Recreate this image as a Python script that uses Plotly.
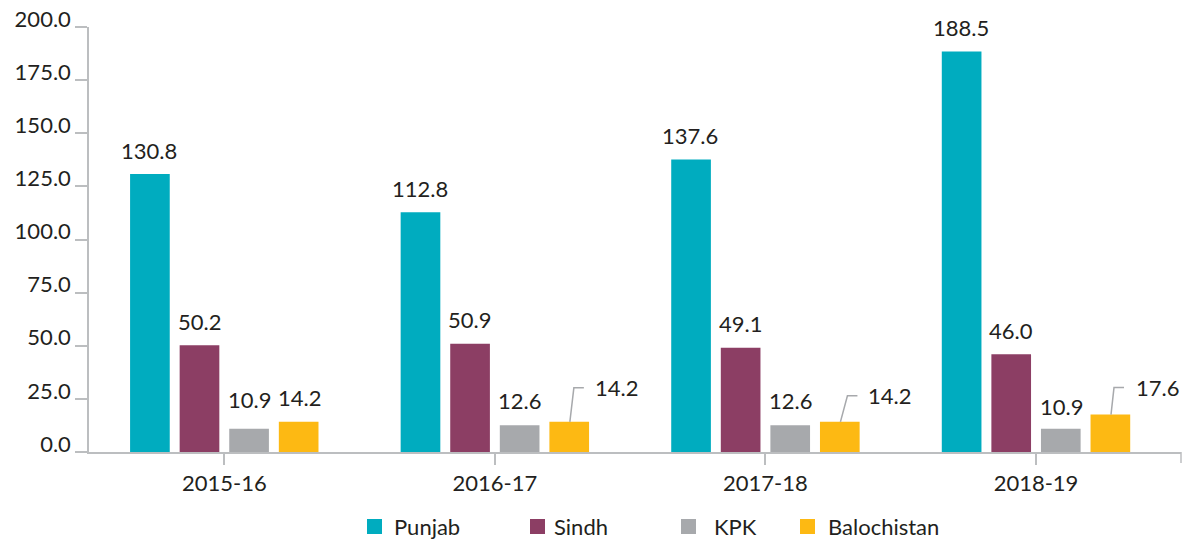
import plotly.graph_objects as go

years = ["2015-16", "2016-17", "2017-18", "2018-19"]
punjab = [130.8, 112.8, 137.6, 188.5]
sindh = [50.2, 50.9, 49.1, 46.0]
kpk = [10.9, 12.6, 12.6, 10.9]
balochistan = [14.2, 14.2, 14.2, 17.6]

series_names = ["Punjab", "Sindh", "KPK", "Balochistan"]
series_vals = [punjab, sindh, kpk, balochistan]
colors = ["#00acbf", "#8c3e64", "#a7a9ac", "#fdb913"]

FONT = "Lato"
FS = 22
TXT = "#231f20"
GRID = "#bcbec0"

# plot area in page pixels
L, R, T, B = 89, 1181, 27, 452
W, H = 1188, 540
PW, PH = R - L, B - T

fig = go.Figure()
for name, vals, c in zip(series_names, series_vals, colors):
    fig.add_trace(go.Bar(x=years, y=vals, name=name, showlegend=False,
                         marker=dict(color=c, line=dict(width=0))))

bar_px = 50
offs = [-1.5, -0.5, 0.5, 1.5]
# leader-line labels: (series, category) -> (dx_bend, dy, text_dx)
leaders = {
    (3, 1): (4, 34, 24),
    (3, 2): (7, 26, 27),
    (3, 3): (3, 27, 24),
}
# plain label vertical offsets (pixels above bar top) where they differ from default
label_dy = {(2, 0): 29, (2, 1): 25, (2, 2): 25, (2, 3): 22}

annotations = []
shapes = []
for si, vals in enumerate(series_vals):
    for ci, v in enumerate(vals):
        xs = offs[si] * bar_px
        if (si, ci) in leaders:
            dx, dy, tdx = leaders[(si, ci)]
            shapes.append(dict(
                type="path", xref="x", yref="y",
                xsizemode="pixel", ysizemode="pixel",
                xanchor=ci, yanchor=v,
                path=f"M {xs},0 L {xs+dx},{dy} L {xs+dx+10},{dy}",
                line=dict(color="#a7a9ac", width=1.5),
            ))
            annotations.append(dict(
                x=years[ci], y=v, xref="x", yref="y", text=f"{v:.1f}",
                showarrow=False, xanchor="left", yanchor="middle",
                xshift=xs + tdx - 1, yshift=dy,
                font=dict(family=FONT, size=FS, color=TXT),
            ))
        else:
            annotations.append(dict(
                x=years[ci], y=v, xref="x", yref="y", text=f"{v:.1f}",
                showarrow=False, xanchor="center", yanchor="middle",
                xshift=xs, yshift=label_dy.get((si, ci), 24),
                font=dict(family=FONT, size=FS, color=TXT),
            ))

# extra tick at the right end of the category axis
shapes.append(dict(type="line", xref="paper", yref="paper", x0=1, x1=1, y0=0, y1=-11 / PH,
                   line=dict(color=GRID, width=1.5)))

# manual legend (page-pixel placement)
def px_x(px):
    return (px - L) / PW

def px_y(py):
    return (B - py) / PH

leg_sq_x = [367, 530, 681, 800]
leg_tx_x = [392, 552, 712, 826]
for name, c, sx, tx in zip(series_names, colors, leg_sq_x, leg_tx_x):
    shapes.append(dict(type="rect", xref="paper", yref="paper",
                       x0=px_x(sx), x1=px_x(sx + 15), y0=px_y(534), y1=px_y(519),
                       fillcolor=c, line=dict(width=0)))
    annotations.append(dict(x=px_x(tx), y=px_y(526), xref="paper", yref="paper",
                            text=name, showarrow=False, xanchor="left", yanchor="middle",
                            font=dict(family=FONT, size=FS, color=TXT)))

fig.update_layout(
    width=W, height=H,
    margin=dict(l=L, r=W - R, t=T, b=H - B, autoexpand=False),
    paper_bgcolor="white", plot_bgcolor="white",
    barmode="group", bargap=0.267, bargroupgap=0.2,
    font=dict(family=FONT, size=FS, color=TXT),
    showlegend=False,
    annotations=annotations,
    shapes=shapes,
)
fig.update_xaxes(showline=True, linecolor=GRID, linewidth=1.5, ticks="outside", ticklen=11,
                 tickcolor=GRID, tickwidth=1.5, showgrid=False,
                 tickfont=dict(family=FONT, size=FS, color=TXT))
fig.update_yaxes(range=[0, 200], dtick=25, tick0=0, tickformat=".1f", showline=True,
                 linecolor=GRID, linewidth=1.5, ticks="outside", ticklen=12, tickcolor=GRID,
                 tickwidth=1.5, showgrid=False, zeroline=False, ticklabelshift=-8,
                 tickfont=dict(family=FONT, size=FS, color=TXT))

fig.write_html("out.html", config={"displayModeBar": False},
               post_script="document.body.style.margin='0px';")
